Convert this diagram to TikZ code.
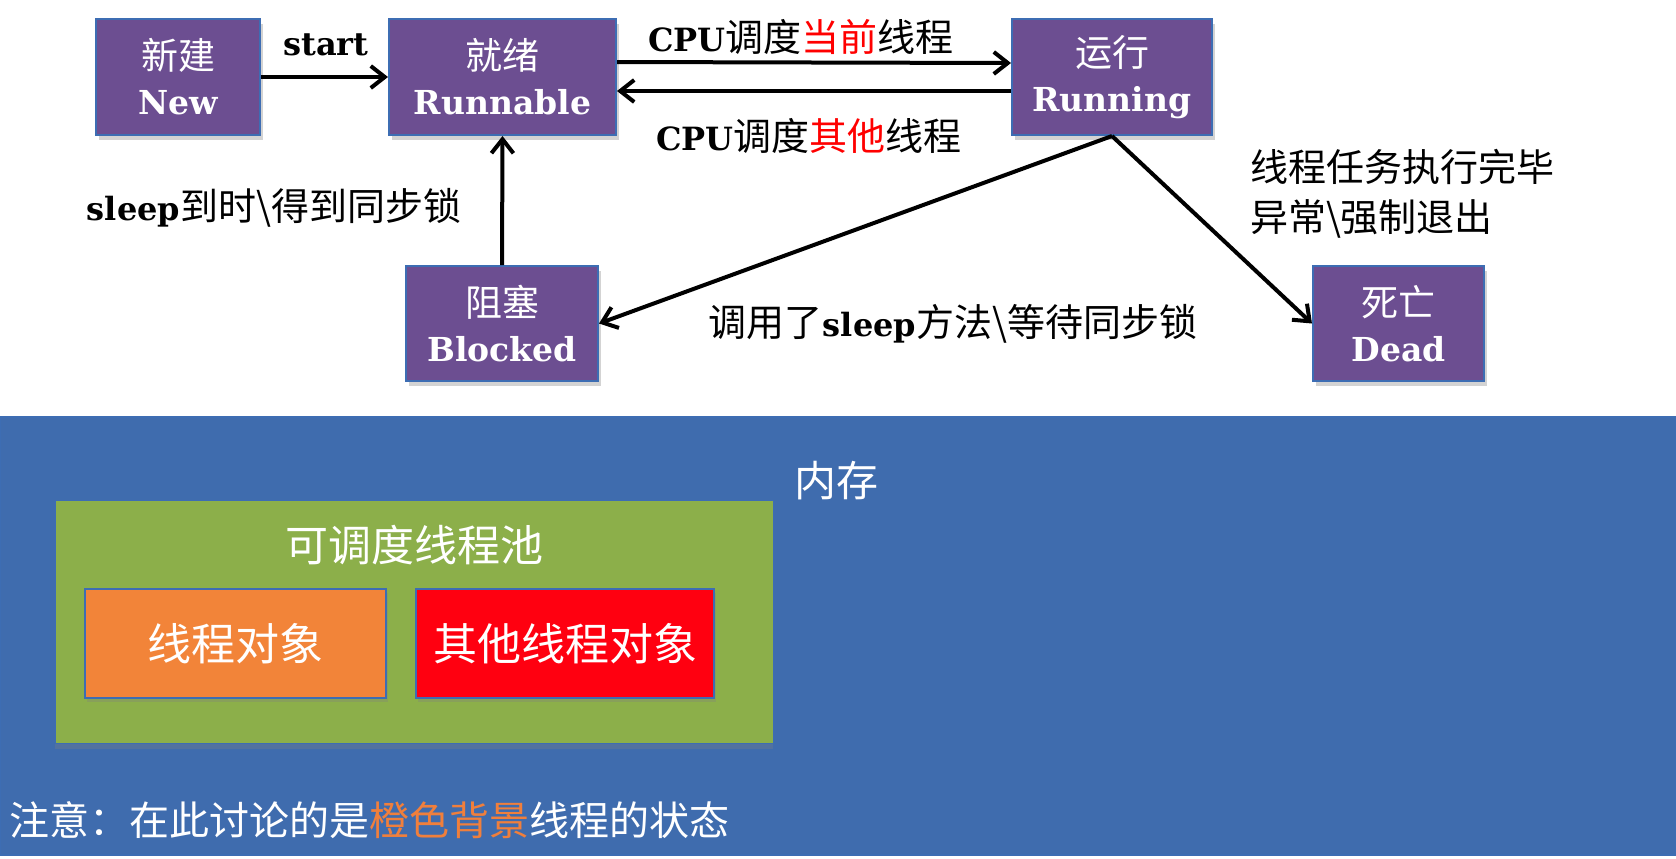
\documentclass[tikz,border=0pt]{standalone}
\usepackage{fontspec}
\setmainfont{DejaVu Serif}
\newfontfamily\cjk{Noto Sans CJK SC}
\usetikzlibrary{arrows.meta,shadows}
\definecolor{statepurple}{HTML}{6C4E91}
\definecolor{edgeblue}{HTML}{3D6DB3}
\definecolor{memblue}{HTML}{3F6CAE}
\definecolor{poolgreen}{HTML}{8CAF4A}
\definecolor{objorange}{HTML}{F28439}
\definecolor{objred}{HTML}{FF0010}
\definecolor{noteorange}{HTML}{F07F3C}
\newcommand\engword[1]{{\rmfamily\bfseries\fontsize{16}{20}\selectfont #1}}
\begin{document}
\begin{tikzpicture}[x=0.5pt,y=-0.5pt,
    state/.style={draw=edgeblue, line width=1pt, fill=statepurple, text=white, align=center,
      minimum height=58pt, inner sep=0pt, font=\fontsize{18.5}{22.5}\selectfont,
      drop shadow={opacity=0.35, shadow xshift=1.5pt, shadow yshift=-2.5pt}},
    trans/.style={line width=2pt, -{Straight Barb[length=7pt,width=11pt]}},
    lbl/.style={font=\cjk\fontsize{19}{25}\selectfont},
    objbox/.style={draw=edgeblue, line width=1pt, text=white, minimum height=54.5pt, inner sep=0pt,
      font=\cjk\fontsize{22}{26}\selectfont,
      drop shadow={opacity=0.3, shadow xshift=1pt, shadow yshift=-2pt}}]
  \useasboundingbox (0,0) rectangle (1676,858);

  % memory area
  \node[fill=memblue, draw=edgeblue, line width=1pt, minimum width=838pt, minimum height=219pt, inner sep=0pt] (mem) at (838,636) {};
  \node[text=white, font=\cjk\fontsize{21}{25}\selectfont] (memlbl) at (836,481) {内存};
  \node[fill=poolgreen, draw=edgeblue, line width=0.5pt, minimum width=359pt, minimum height=121.5pt, inner sep=0pt,
    drop shadow={opacity=0.3, shadow xshift=0pt, shadow yshift=-3pt}] (pool) at (414,621.5) {};
  \node[text=white, font=\cjk\fontsize{21.5}{25}\selectfont] (poollbl) at (414,545) {可调度线程池};
  \node[objbox, fill=objorange, minimum width=150.5pt] (obj) at (235.5,643.5) {线程对象};
  \node[objbox, fill=objred, minimum width=149pt] (other) at (565,643.5) {其他线程对象};
  \node[anchor=west, text=white, font=\cjk\fontsize{20}{24}\selectfont] (note) at (2,820)
    {注意：在此讨论的是\textcolor{noteorange}{橙色背景}线程的状态};

  % states
  \node[state, minimum width=82pt] (new) at (178,77) {{\cjk 新建}\\{\fontsize{16.5}{20}\selectfont\bfseries New}};
  \node[state, minimum width=113.5pt] (runnable) at (502.5,77) {{\cjk 就绪}\\{\fontsize{16.5}{20}\selectfont\bfseries Runnable}};
  \node[state, minimum width=100pt] (running) at (1112,77) {{\cjk 运行}\\{\fontsize{16.5}{20}\selectfont\bfseries Running}};
  \node[state, minimum width=96pt, minimum height=57.5pt] (blocked) at (502,323.5) {{\cjk 阻塞}\\{\fontsize{16.5}{20}\selectfont\bfseries Blocked}};
  \node[state, minimum width=85.5pt, minimum height=57.5pt] (dead) at (1398.5,323.5) {{\cjk 死亡}\\{\fontsize{16.5}{20}\selectfont\bfseries Dead}};

  % transitions
  \draw[trans] (new.east) -- (runnable.west);
  \draw[trans] ([yshift=7.5pt]runnable.east) -- ([yshift=7pt]running.west);
  \draw[trans] ([yshift=-7pt]running.west) -- ([yshift=-7pt]runnable.east);
  \draw[trans] (blocked.north) -- (runnable.south);
  \draw[trans] (running.south) -- (blocked.east);
  \draw[trans] (running.south) -- (dead.west);

  \node[lbl] (startlbl) at (326,45) {\engword{start}};
  \node[lbl] (cpucur) at (801,37) {\engword{CPU}调度\textcolor{red}{当前}线程};
  \node[lbl] (cpuoth) at (809,136) {\engword{CPU}调度\textcolor{red}{其他}线程};
  \node[lbl] (wake) at (274,208) {\engword{sleep}到时\textbackslash 得到同步锁};
  \node[lbl] (wait) at (953,324) {调用了\engword{sleep}方法\textbackslash 等待同步锁};
  \node[lbl, align=left, anchor=west] (finish) at (1243,194) {线程任务执行完毕\\异常\textbackslash 强制退出};
\end{tikzpicture}
\end{document}
